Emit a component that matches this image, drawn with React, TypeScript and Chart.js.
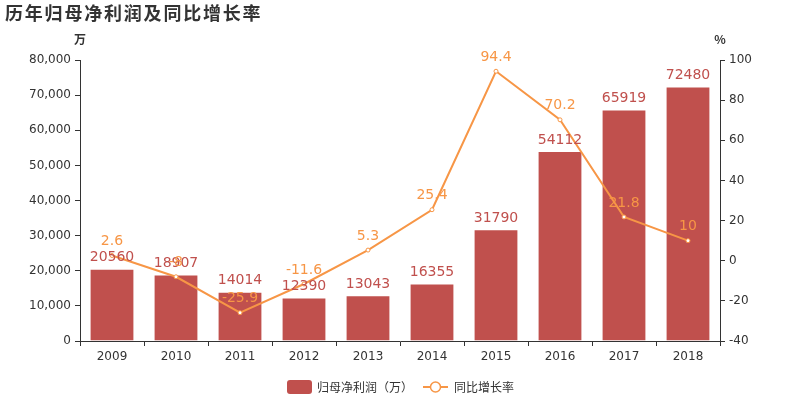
import React, { useEffect, useRef } from "react";
import { Chart, registerables } from "chart.js";

Chart.register(...registerables);

const title = "历年归母净利润及同比增长率";
const years = ["2009", "2010", "2011", "2012", "2013", "2014", "2015", "2016", "2017", "2018"];
const profit = [20560, 18907, 14014, 12390, 13043, 16355, 31790, 54112, 65919, 72480];
const growth = [2.6, -8, -25.9, -11.6, 5.3, 25.4, 94.4, 70.2, 21.8, 10];
const barName = "归母净利润（万）";
const lineName = "同比增长率";
const leftUnit = "万";
const rightUnit = "%";

const BAR = "#c0504d";
const LINE = "#f79646";
const TEXT = "#333333";
const FONT = "'DejaVu Sans', sans-serif";
const CJK = "'Noto Sans CJK SC', sans-serif";

const overlay = {
  id: "overlay",
  afterDatasetsDraw(chart: any) {
    const ctx = chart.ctx;
    const area = chart.chartArea;
    ctx.save();
    // title
    ctx.fillStyle = TEXT;
    ctx.font = "bold 18px " + CJK;
    ctx.textAlign = "left";
    ctx.textBaseline = "middle";
    let tx = 5;
    for (const ch of title) {
      ctx.fillText(ch, tx, 13);
      tx += 19.8;
    }
    // axis names
    ctx.font = "bold 12px " + CJK;
    ctx.textAlign = "center";
    ctx.fillText(leftUnit, area.left, 39);
    ctx.fillText(rightUnit, area.right, 39);

    // bar labels
    const barMeta = chart.getDatasetMeta(0);
    ctx.font = "14px " + FONT;
    ctx.fillStyle = BAR;
    ctx.textBaseline = "bottom";
    barMeta.data.forEach((el: any, i: number) => {
      ctx.fillText(String(profit[i]), el.x, el.y - 4);
    });
    // line labels
    const lineMeta = chart.getDatasetMeta(1);
    ctx.fillStyle = LINE;
    lineMeta.data.forEach((el: any, i: number) => {
      ctx.fillText(String(growth[i]), el.x, el.y - 7);
    });

    // legend
    const ly = 387;
    ctx.fillStyle = BAR;
    const rx = 287, rw = 25, rh = 14, r = 3;
    ctx.beginPath();
    ctx.moveTo(rx + r, ly - rh / 2);
    ctx.arcTo(rx + rw, ly - rh / 2, rx + rw, ly + rh / 2, r);
    ctx.arcTo(rx + rw, ly + rh / 2, rx, ly + rh / 2, r);
    ctx.arcTo(rx, ly + rh / 2, rx, ly - rh / 2, r);
    ctx.arcTo(rx, ly - rh / 2, rx + rw, ly - rh / 2, r);
    ctx.closePath();
    ctx.fill();
    ctx.font = "12px " + CJK;
    ctx.fillStyle = TEXT;
    ctx.textAlign = "left";
    ctx.textBaseline = "middle";
    ctx.fillText(barName, 317, ly);

    ctx.strokeStyle = LINE;
    ctx.lineWidth = 2;
    ctx.beginPath();
    ctx.moveTo(423, ly);
    ctx.lineTo(448, ly);
    ctx.stroke();
    ctx.beginPath();
    ctx.arc(435.5, ly, 5, 0, Math.PI * 2);
    ctx.fillStyle = "#ffffff";
    ctx.fill();
    ctx.lineWidth = 1.5;
    ctx.stroke();
    ctx.fillStyle = TEXT;
    ctx.fillText(lineName, 454, ly);
    ctx.restore();
  },
};

export default function App() {
  const ref = useRef<HTMLCanvasElement>(null);
  useEffect(() => {
    const chart = new Chart(ref.current as HTMLCanvasElement, {
      data: {
        labels: years,
        datasets: [
          {
            type: "bar",
            label: barName,
            data: profit,
            backgroundColor: BAR,
            borderColor: "rgba(255,255,255,0.25)",
            borderWidth: 1,
            yAxisID: "y",
            categoryPercentage: 1,
            barPercentage: 0.7,
            order: 2,
          },
          {
            type: "line",
            label: lineName,
            data: growth,
            borderColor: LINE,
            borderWidth: 2,
            pointRadius: 2,
            pointBackgroundColor: "#ffffff",
            pointBorderColor: LINE,
            pointBorderWidth: 1,
            tension: 0,
            yAxisID: "y1",
            order: 1,
          },
        ],
      } as any,
      options: {
        responsive: false,
        animation: false,
        layout: { padding: { top: 60, left: 0, right: 0, bottom: 0 } },
        plugins: { legend: { display: false }, tooltip: { enabled: false }, title: { display: false } },
        scales: {
          x: {
            offset: true,
            grid: { offset: true, drawOnChartArea: false, tickLength: 5, color: TEXT },
            border: { display: true, color: TEXT },
            ticks: { color: TEXT, font: { family: FONT, size: 12 }, padding: 4, maxRotation: 0 },
            afterFit(axis: any) {
              axis.height = 59;
            },
          },
          y: {
            position: "left",
            min: 0,
            max: 80000,
            ticks: {
              stepSize: 10000,
              color: TEXT,
              font: { family: FONT, size: 12 },
              padding: 4,
              callback: (v: any) => Number(v).toLocaleString("en-US"),
            },
            grid: { drawOnChartArea: false, tickLength: 5, color: TEXT },
            border: { display: true, color: TEXT },
            afterFit(axis: any) {
              axis.width = 80;
            },
          },
          y1: {
            position: "right",
            min: -40,
            max: 100,
            ticks: { stepSize: 20, color: TEXT, font: { family: FONT, size: 12 }, padding: 4 },
            grid: { drawOnChartArea: false, tickLength: 5, color: TEXT },
            border: { display: true, color: TEXT },
            afterFit(axis: any) {
              axis.width = 80;
            },
          },
        },
      } as any,
      plugins: [overlay],
    });
    return () => chart.destroy();
  }, []);
  return (
    <div style={{ position: "absolute", left: 0, top: 0, width: 800, height: 400, background: "#fff" }}>
      <canvas ref={ref} width={800} height={400} />
    </div>
  );
}
